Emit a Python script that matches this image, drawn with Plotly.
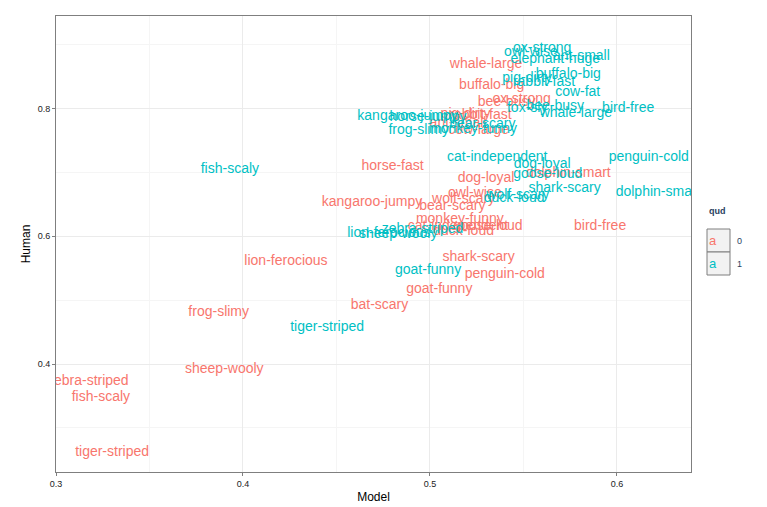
import plotly.graph_objects as go

RED = "#F8766D"
CYAN = "#00BFC4"

# qud = 0
labels0 = ["whale-large", "buffalo-big", "bee-busy", "ox-strong", "pig-dirty", "rabbit-fast",
           "ant-small", "cow-large", "horse-fast", "dog-loyal", "owl-wise", "wolf-scary",
           "kangaroo-jumpy", "bear-scary", "monkey-funny", "cat-independent", "goose-loud",
           "bird-free", "shark-scary", "penguin-cold", "goat-funny", "bat-scary",
           "lion-ferocious", "frog-slimy", "sheep-wooly", "zebra-striped", "fish-scaly",
           "tiger-striped", "dolphin-smart", "duck-loud"]
model0 = [0.530, 0.533, 0.541, 0.549, 0.519, 0.527, 0.515, 0.526, 0.480, 0.530, 0.524, 0.518,
          0.469, 0.512, 0.516, 0.515, 0.531, 0.591, 0.526, 0.540, 0.505, 0.473, 0.423, 0.387,
          0.390, 0.317, 0.324, 0.330, 0.574, 0.518]
human0 = [0.869, 0.836, 0.809, 0.814, 0.791, 0.789, 0.777, 0.766, 0.709, 0.691, 0.667, 0.658,
          0.653, 0.647, 0.627, 0.616, 0.616, 0.616, 0.567, 0.541, 0.517, 0.492, 0.561, 0.480,
          0.391, 0.372, 0.347, 0.261, 0.698, 0.608]

# qud = 1
labels1 = ["ox-strong", "owl-wise", "ant-small", "elephant-huge", "buffalo-big", "pig-dirty",
           "rabbit-fast", "cow-fat", "fox-sly", "bee-busy", "bird-free", "whale-large",
           "kangaroo-jumpy", "horse-jumpy", "bear-scary", "monkey-funny", "frog-slimy",
           "cat-independent", "dog-loyal", "goose-loud", "penguin-cold", "fish-scaly",
           "shark-scary", "dolphin-smart", "wolf-scary", "duck-loud", "lion-ferocious",
           "zebra-striped", "sheep-wooly", "goat-funny", "tiger-striped"]
model1 = [0.560, 0.554, 0.581, 0.567, 0.574, 0.552, 0.561, 0.579, 0.552, 0.567, 0.606, 0.578,
          0.488, 0.499, 0.528, 0.523, 0.494, 0.536, 0.560, 0.563, 0.617, 0.393, 0.572, 0.622,
          0.547, 0.545, 0.478, 0.496, 0.483, 0.499, 0.445]
human1 = [0.894, 0.888, 0.881, 0.877, 0.853, 0.847, 0.841, 0.825, 0.800, 0.803, 0.800, 0.792,
          0.788, 0.786, 0.775, 0.767, 0.766, 0.723, 0.713, 0.697, 0.723, 0.705, 0.675, 0.669,
          0.664, 0.659, 0.605, 0.611, 0.603, 0.547, 0.458]

font = dict(family="Liberation Sans, Arial, sans-serif", size=14)

fig = go.Figure()
fig.add_trace(go.Scatter(x=model0, y=human0, text=labels0, mode="text",
                         textfont=dict(color=RED, **font), showlegend=False, cliponaxis=True))
fig.add_trace(go.Scatter(x=model1, y=human1, text=labels1, mode="text",
                         textfont=dict(color=CYAN, **font), showlegend=False, cliponaxis=True))

axis = dict(showline=True, linecolor="#7f7f7f", mirror=True, linewidth=1, automargin=False,
            gridcolor="#ebebeb", zeroline=False, ticks="outside", ticklen=3,
            tickcolor="#7f7f7f", tickfont=dict(family="Liberation Sans, Arial", size=9, color="#222"),
            title_font=dict(family="Liberation Sans, Arial", size=12, color="#000"))
fig.update_xaxes(range=[0.3, 0.6396], tickvals=[0.3, 0.4, 0.5, 0.6], title_text="Model",
                 title_standoff=4,
                 minor=dict(tickvals=[0.35, 0.45, 0.55], showgrid=True, gridcolor="#f5f5f5"), **axis)
fig.update_yaxes(range=[0.231, 0.945], tickvals=[0.4, 0.6, 0.8], title_text="Human",
                 title_standoff=4,
                 minor=dict(tickvals=[0.3, 0.5, 0.7, 0.9], showgrid=True, gridcolor="#f5f5f5"), **axis)

# legend drawn by hand (ggplot style)
def px(xp):
    return (xp - 48) / 635

def py(yp):
    return 1 - (yp - 8) / 456

shapes = []
annotations = [dict(x=px(699), y=py(203), xref="paper", yref="paper", text="<b>qud</b>",
                    showarrow=False, xanchor="left", font=dict(family="Liberation Sans", size=9))]
for i, (col, lab) in enumerate([(RED, "0"), (CYAN, "1")]):
    top = 221 + i * 23
    shapes.append(dict(type="rect", xref="paper", yref="paper", x0=px(699), x1=px(722),
                       y0=py(top), y1=py(top + 23), line=dict(color="#7f7f7f", width=1),
                       fillcolor="#f2f2f2"))
    annotations.append(dict(x=px(710.5), y=py(top + 11.5), xref="paper", yref="paper", text="a",
                            showarrow=False, font=dict(family="Liberation Sans", size=13, color=col)))
    annotations.append(dict(x=px(727), y=py(top + 11.5), xref="paper", yref="paper", text=lab,
                            showarrow=False, xanchor="left", font=dict(family="Liberation Sans", size=9)))

fig.update_layout(width=767, height=507, margin=dict(l=48, r=84, t=8, b=43),
                  plot_bgcolor="white", paper_bgcolor="white",
                  shapes=shapes, annotations=annotations)

fig.write_html("out.html")
